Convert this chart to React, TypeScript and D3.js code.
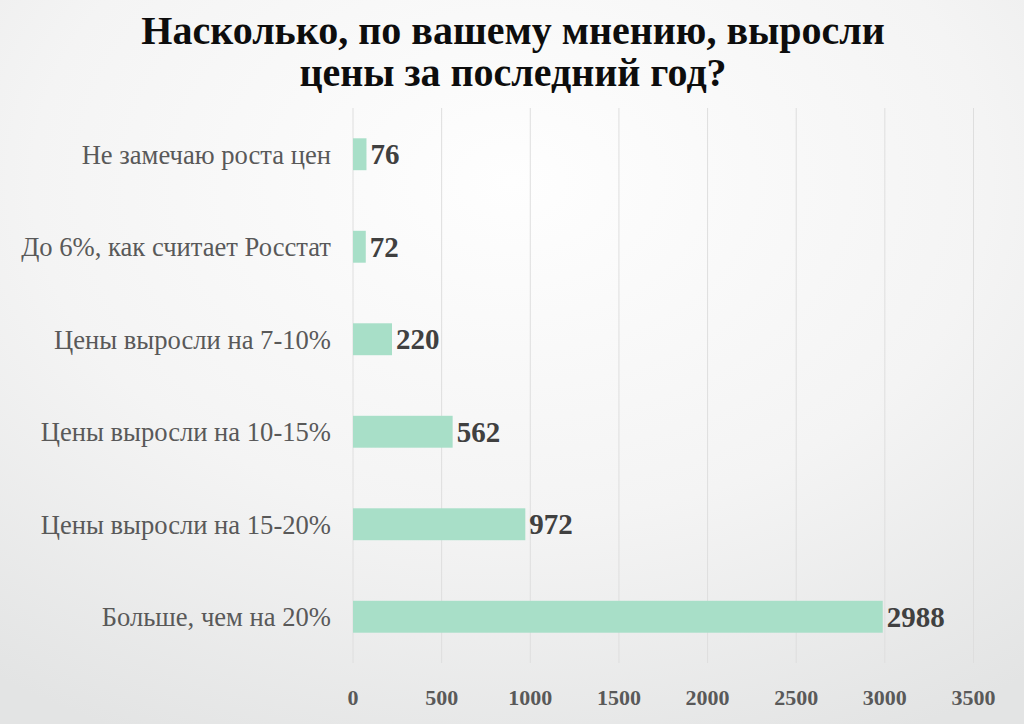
import { useEffect, useRef } from "react";
import * as d3 from "d3";

const categories = [
  "Не замечаю роста цен",
  "До 6%, как считает Росстат",
  "Цены выросли на 7-10%",
  "Цены выросли на 10-15%",
  "Цены выросли на 15-20%",
  "Больше, чем на 20%",
];
const values = [76, 72, 220, 562, 972, 2988];
const ticks = [0, 500, 1000, 1500, 2000, 2500, 3000, 3500];
const titleLines = ["Насколько, по вашему мнению, выросли", "цены за последний год?"];

const W = 1024;
const H = 724;
const FONT = "'Liberation Serif', 'DejaVu Serif', serif";

export default function App() {
  const svgRef = useRef<SVGSVGElement>(null);

  useEffect(() => {
    const svg = d3.select(svgRef.current);
    svg.selectAll("*").remove();

    const defs = svg.append("defs");
    const grad = defs
      .append("radialGradient")
      .attr("id", "bg")
      .attr("cx", "50%")
      .attr("cy", "25%")
      .attr("r", "85%");
    grad.append("stop").attr("offset", "0%").attr("stop-color", "#fefefe");
    grad.append("stop").attr("offset", "55%").attr("stop-color", "#f4f4f4");
    grad.append("stop").attr("offset", "100%").attr("stop-color", "#e3e4e4");

    svg.append("rect").attr("width", W).attr("height", H).attr("fill", "url(#bg)");

    const x = d3.scaleLinear().domain([0, 3500]).range([353, 973.5]);
    const y = d3
      .scaleBand<string>()
      .domain(categories)
      .range([108, 663])
      .paddingInner(0.655)
      .paddingOuter(0.3275);

    // gridlines
    svg
      .append("g")
      .selectAll("line")
      .data(ticks)
      .join("line")
      .attr("x1", (d) => x(d))
      .attr("x2", (d) => x(d))
      .attr("y1", 108)
      .attr("y2", 663)
      .attr("stroke", "#dedede")
      .attr("stroke-width", 1);

    // bars
    svg
      .append("g")
      .selectAll("rect")
      .data(values)
      .join("rect")
      .attr("x", x(0))
      .attr("y", (_, i) => y(categories[i])!)
      .attr("width", (d) => x(d) - x(0))
      .attr("height", y.bandwidth())
      .attr("fill", "#a8dfc8");

    // value labels
    svg
      .append("g")
      .selectAll("text")
      .data(values)
      .join("text")
      .attr("x", (d) => x(d) + 4)
      .attr("y", (_, i) => y(categories[i])! + y.bandwidth() / 2)
      .attr("dy", "0.35em")
      .attr("font-family", FONT)
      .attr("font-weight", "bold")
      .attr("font-size", 29)
      .attr("fill", "#404040")
      .text((d) => d);

    // category labels
    svg
      .append("g")
      .selectAll("text")
      .data(categories)
      .join("text")
      .attr("x", 331)
      .attr("y", (d) => y(d)! + y.bandwidth() / 2)
      .attr("dy", "0.35em")
      .attr("text-anchor", "end")
      .attr("font-family", FONT)
      .attr("font-size", 26.6)
      .attr("fill", "#595959")
      .text((d) => d);

    // x tick labels
    svg
      .append("g")
      .selectAll("text")
      .data(ticks)
      .join("text")
      .attr("x", (d) => x(d))
      .attr("y", 697)
      .attr("dy", "0.35em")
      .attr("text-anchor", "middle")
      .attr("font-family", FONT)
      .attr("font-weight", "bold")
      .attr("font-size", 22)
      .attr("fill", "#595959")
      .text((d) => d);

    // title
    svg
      .append("g")
      .selectAll("text")
      .data(titleLines)
      .join("text")
      .attr("x", 513)
      .attr("y", (_, i) => 30 + i * 42)
      .attr("dy", "0.35em")
      .attr("text-anchor", "middle")
      .attr("font-family", FONT)
      .attr("font-weight", "bold")
      .attr("font-size", 40)
      .attr("fill", "#0d0d0d")
      .text((d) => d);
  }, []);

  return (
    <svg
      ref={svgRef}
      width={W}
      height={H}
      style={{ position: "absolute", left: 0, top: 0, display: "block" }}
    />
  );
}
